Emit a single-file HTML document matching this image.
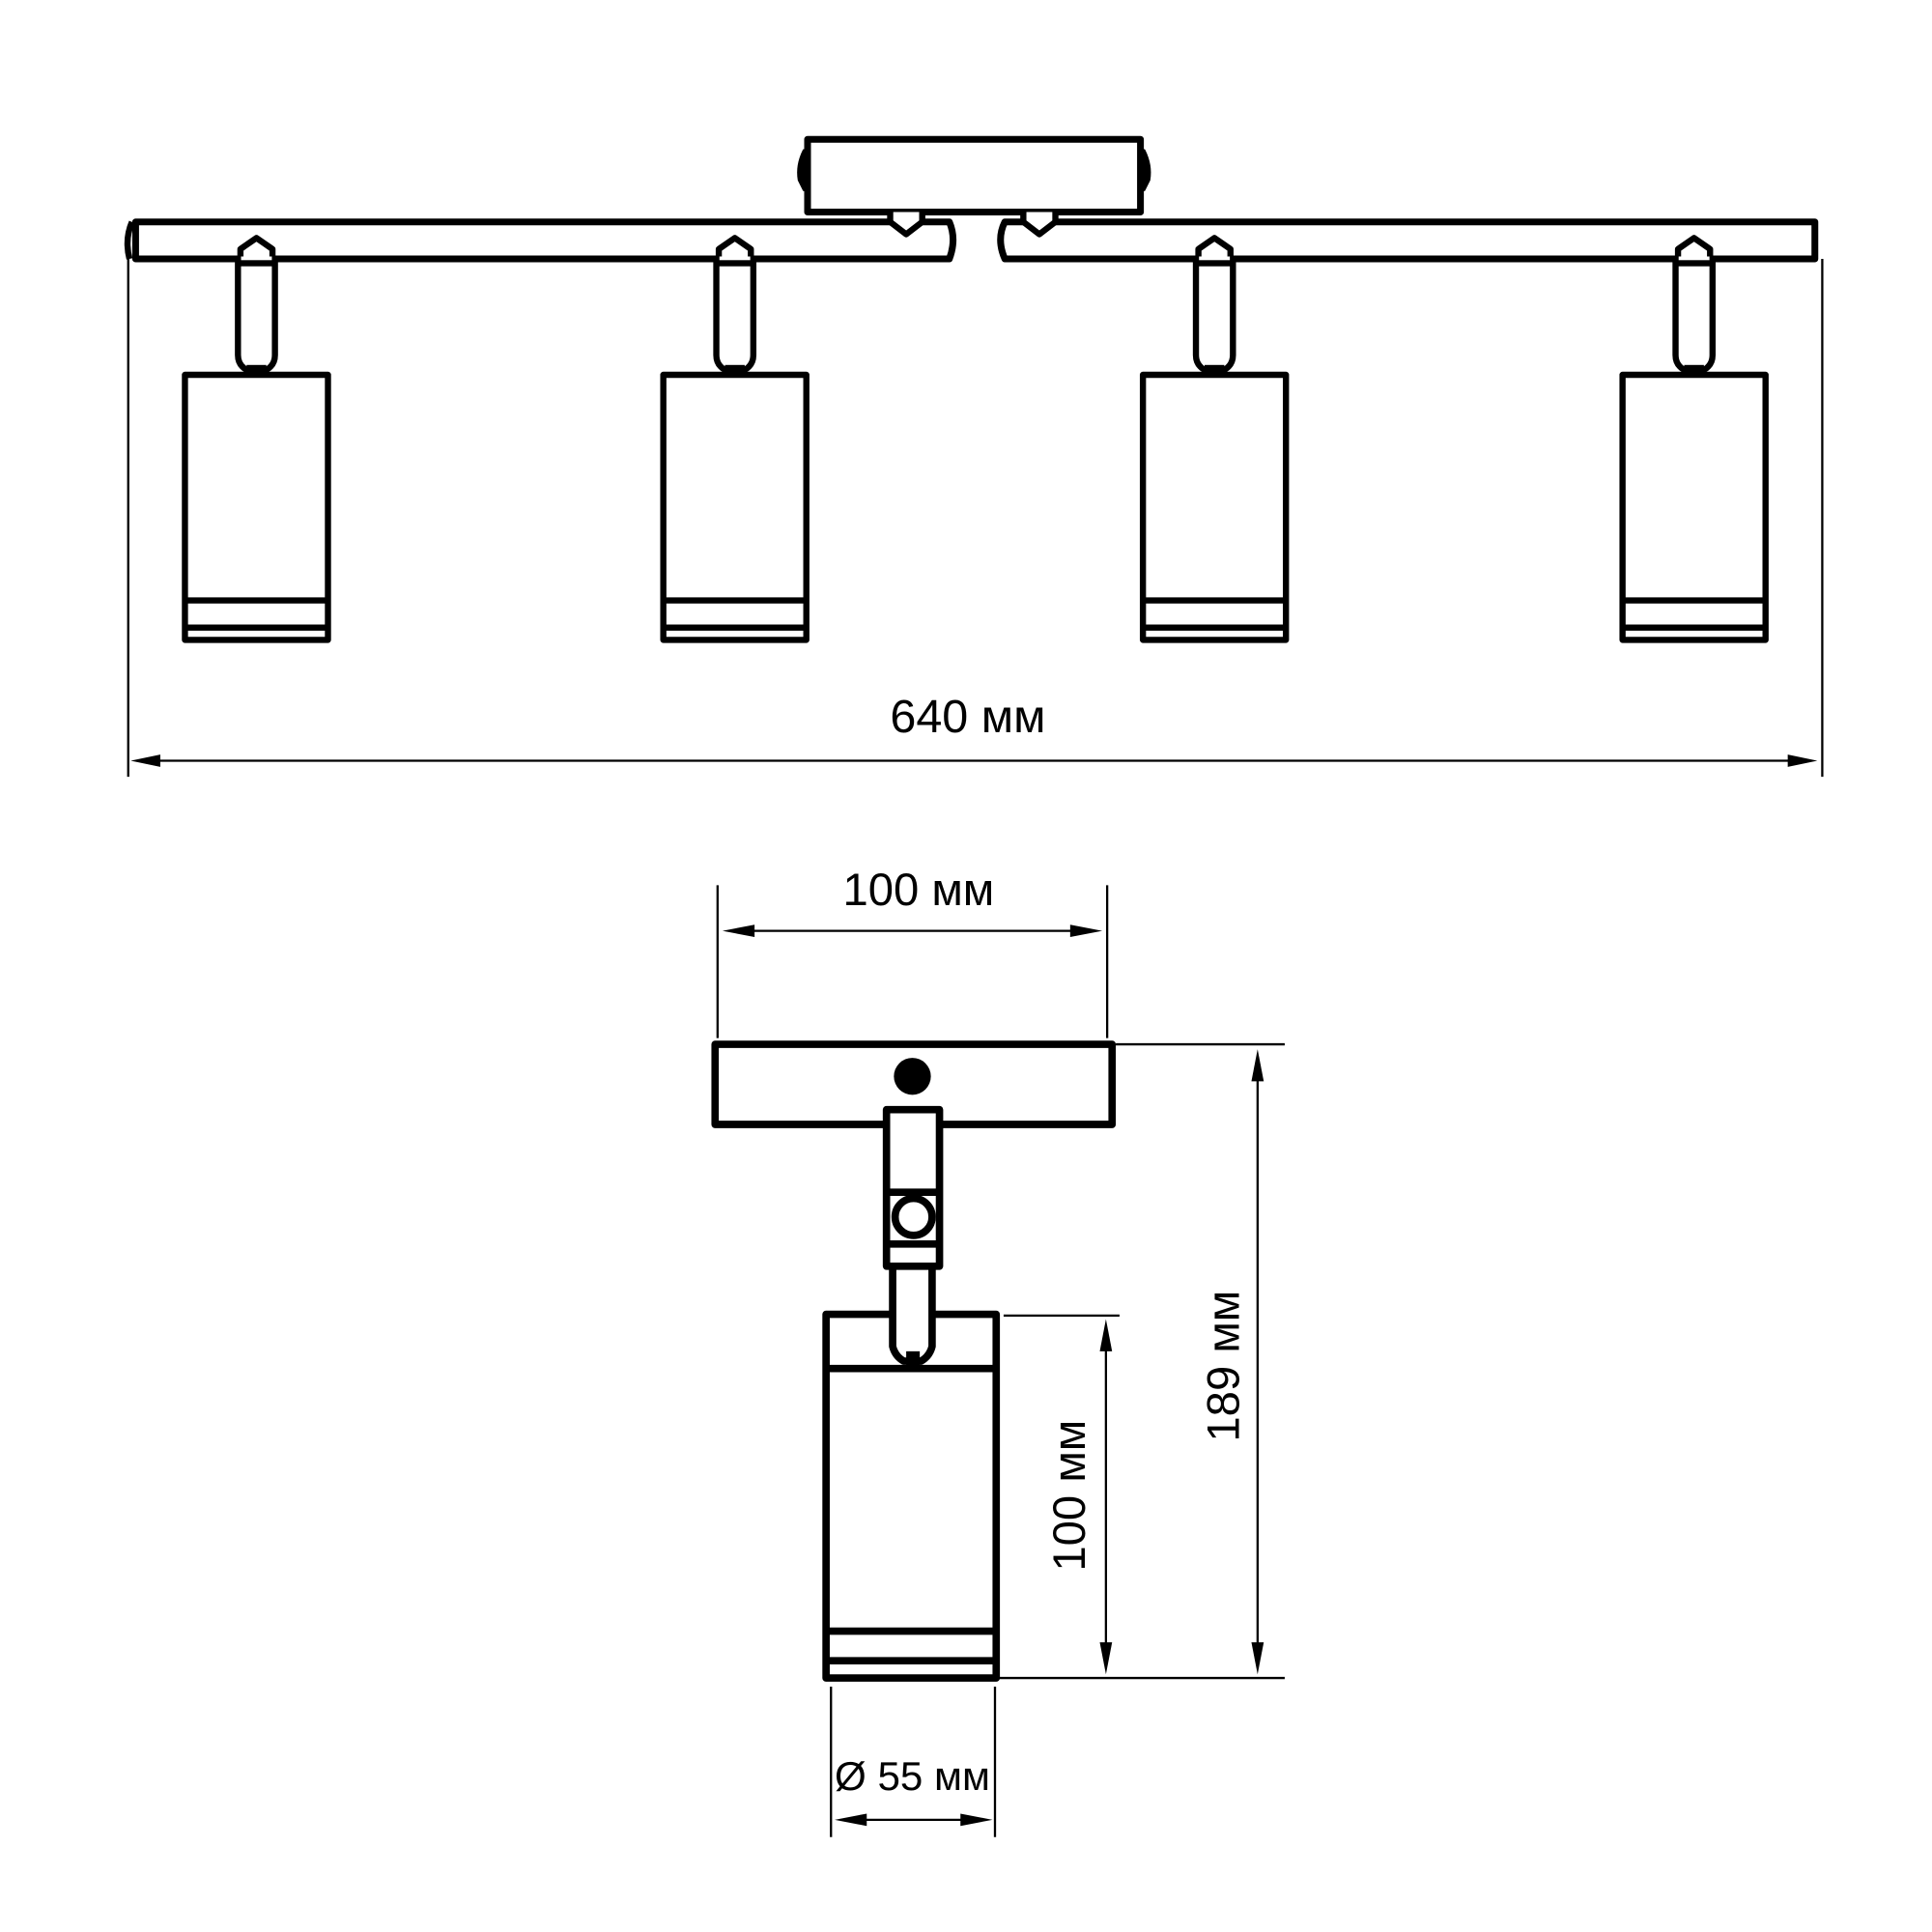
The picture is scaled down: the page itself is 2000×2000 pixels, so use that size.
<!DOCTYPE html>
<html><head><meta charset="utf-8"><style>html,body{margin:0;padding:0;background:#fff}svg{display:block}</style></head>
<body>
<svg width="2000" height="2000" viewBox="0 0 1567 1567" xmlns="http://www.w3.org/2000/svg">
<defs>
<g id="spot">
  <path d="M-15,208 L-15,212 L-15,288 Q-15,296 -8,300 L8,300 Q15,296 15,288 L15,212 L15,208" fill="#fff" stroke="#000" stroke-width="5" stroke-linejoin="round"/>
  <path d="M-13,208 L-13,202 L0,193 L13,202 L13,208" fill="#fff" stroke="#000" stroke-width="5" stroke-linejoin="round"/>
  <rect x="-13" y="211" width="26" height="5" fill="#000"/>
  <rect x="-8" y="296" width="16" height="8" fill="#000"/>
  <rect x="-58" y="304" width="116" height="215" fill="#fff" stroke="#000" stroke-width="5" stroke-linejoin="round"/>
  <line x1="-58" y1="487" x2="58" y2="487" stroke="#000" stroke-width="5"/>
  <line x1="-58" y1="509" x2="58" y2="509" stroke="#000" stroke-width="5"/>
</g>
</defs>
<g fill="none" stroke="#000" stroke-linejoin="round">
  <rect x="655" y="113" width="270" height="59" fill="#fff" stroke-width="5.5"/>
  <path d="M652,122 Q646,134 648,146 L652,154 Z" fill="#000" stroke-width="2"/>
  <path d="M928,122 Q934,134 932,146 L928,154 Z" fill="#000" stroke-width="2"/>
  <path d="M110,180 L770,180 Q776,194 770,210 L110,210 Z" fill="#fff" stroke-width="5.5"/>
  <path d="M1472,180 L815,180 Q808,194 815,210 L1472,210 Z" fill="#fff" stroke-width="5.5"/>
  <path d="M107,180 Q101,194 105,210" stroke-width="5"/>
  <path d="M722,172 L722,180 L735,190 L748,180 L748,172" fill="#fff" stroke-width="5"/>
  <path d="M830,172 L830,180 L843,190 L856,180 L856,172" fill="#fff" stroke-width="5"/>
  <line x1="104" y1="210" x2="104" y2="630" stroke-width="1.8"/>
  <line x1="1478" y1="210" x2="1478" y2="630" stroke-width="1.8"/>
  <line x1="125" y1="617" x2="1458" y2="617" stroke-width="1.8"/>
</g>
<use href="#spot" x="208"/><use href="#spot" x="596"/><use href="#spot" x="985"/><use href="#spot" x="1374"/>
<polygon points="106,617 130,612 130,622" fill="#000"/>
<polygon points="1474,617 1450,612 1450,622" fill="#000"/>
<text x="785" y="594" font-family="Liberation Sans, sans-serif" font-size="38" text-anchor="middle">640 мм</text>

<g fill="none" stroke="#000" stroke-linejoin="round">
  <line x1="582" y1="718" x2="582" y2="842" stroke-width="1.8"/>
  <line x1="898" y1="718" x2="898" y2="842" stroke-width="1.8"/>
  <line x1="605" y1="755" x2="875" y2="755" stroke-width="1.8"/>
  <rect x="580" y="847" width="322" height="65" fill="#fff" stroke-width="6"/>
  <rect x="670" y="1066" width="138" height="295" fill="#fff" stroke-width="6"/>
  <line x1="670" y1="1110" x2="808" y2="1110" stroke-width="6"/>
  <line x1="670" y1="1323" x2="808" y2="1323" stroke-width="6"/>
  <line x1="670" y1="1347" x2="808" y2="1347" stroke-width="6"/>
  <path d="M724,1027 L724,1092 Q726,1100 733,1104 L747,1104 Q754,1100 756,1092 L756,1027" fill="#fff" stroke-width="6"/>
  <rect x="719" y="900" width="43" height="127" fill="#fff" stroke-width="6"/>
  <line x1="719" y1="967" x2="762" y2="967" stroke-width="6"/>
  <line x1="719" y1="1009" x2="762" y2="1009" stroke-width="6"/>
  <circle cx="741" cy="987" r="15" fill="#fff" stroke-width="6"/>
  <line x1="905" y1="847" x2="1042" y2="847" stroke-width="1.8"/>
  <line x1="810" y1="1361" x2="1042" y2="1361" stroke-width="1.8"/>
  <line x1="1020" y1="870" x2="1020" y2="1340" stroke-width="1.8"/>
  <line x1="814" y1="1067" x2="908" y2="1067" stroke-width="1.8"/>
  <line x1="897" y1="1090" x2="897" y2="1338" stroke-width="1.8"/>
  <line x1="674" y1="1368" x2="674" y2="1490" stroke-width="1.8"/>
  <line x1="807" y1="1368" x2="807" y2="1490" stroke-width="1.8"/>
  <line x1="695" y1="1476" x2="787" y2="1476" stroke-width="1.8"/>
</g>
<circle cx="740" cy="873" r="15" fill="#000"/>
<rect x="735" y="1096" width="11" height="12" fill="#000"/>
<polygon points="586,755 612,750 612,760" fill="#000"/>
<polygon points="894,755 868,750 868,760" fill="#000"/>
<polygon points="1020,851 1015,877 1025,877" fill="#000"/>
<polygon points="1020,1358 1015,1332 1025,1332" fill="#000"/>
<polygon points="897,1070 892,1096 902,1096" fill="#000"/>
<polygon points="897,1358 892,1332 902,1332" fill="#000"/>
<polygon points="677,1476 703,1471 703,1481" fill="#000"/>
<polygon points="805,1476 779,1471 779,1481" fill="#000"/>
<g font-family="Liberation Sans, sans-serif" font-size="37" text-anchor="middle">
<text x="745" y="734">100 мм</text>
<text x="740" y="1452" font-size="33">Ø 55 мм</text>
<text transform="translate(1005,1108) rotate(-90)">189 мм</text>
<text transform="translate(880,1213) rotate(-90)">100 мм</text>
</g>
</svg>
</body></html>
